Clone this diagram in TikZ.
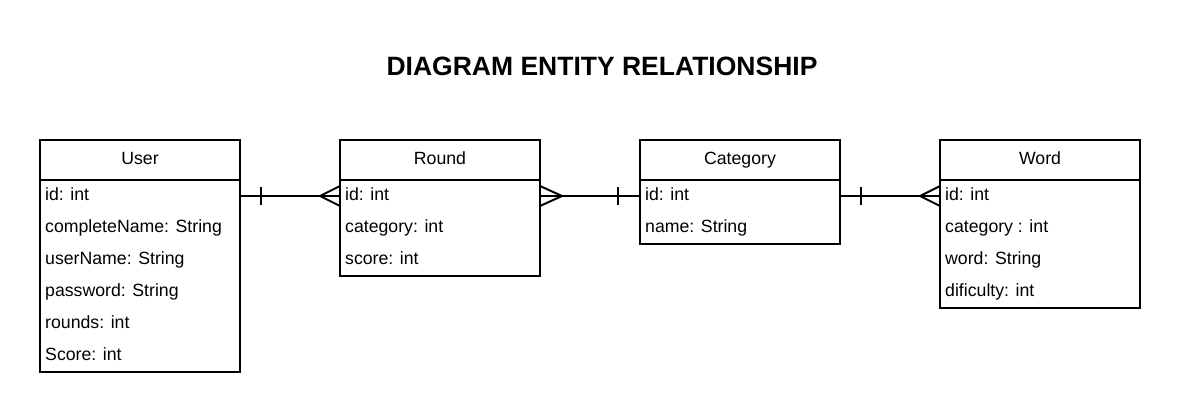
\documentclass[tikz,border=0pt]{standalone}
\usepackage{fontspec}
\setmainfont{Liberation Sans}
\begin{document}
\begin{tikzpicture}[x=1pt,y=-1pt,
  box/.style={draw=black,line width=2pt,fill=white},
  rowtxt/.style={anchor=base west,inner sep=0pt,font=\fontsize{17.7}{20}\selectfont},
  headtxt/.style={anchor=base,inner sep=0pt,font=\fontsize{17.7}{20}\selectfont},
  rel/.style={draw=black,line width=2pt},
]
\useasboundingbox[fill=white] (0,0) rectangle (1180,412);
\node[anchor=base,inner sep=0pt,font=\bfseries\fontsize{26.5}{30}\selectfont] (title) at (602,75) {DIAGRAM ENTITY RELATIONSHIP};

% boxes: left x, bottom y
\foreach \nm/\x/\b in {user/40/372, round/340/276, cat/640/244, word/940/308}{
  \draw[box] (\x,140) rectangle (\x+200,\b);
  \draw[line width=2pt] (\x,180) -- (\x+200,180);
}
\coordinate (userE) at (240,196);
\coordinate (roundW) at (340,196);
\coordinate (roundE) at (540,196);
\coordinate (catW) at (640,196);
\coordinate (catE) at (840,196);
\coordinate (wordW) at (940,196);

\node[headtxt] (userH) at (140,164) {User};
\node[headtxt] (roundH) at (440,164) {Round};
\node[headtxt] (catH) at (740,164) {Category};
\node[headtxt] (wordH) at (1040,164) {Word};

\node[rowtxt] (u1) at (45,200) {id: int};
\node[rowtxt] (u2) at (45,232) {completeName: String};
\node[rowtxt] (u3) at (45,264) {userName: String};
\node[rowtxt] (u4) at (45,296) {password: String};
\node[rowtxt] (u5) at (45,328) {rounds: int};
\node[rowtxt] (u6) at (45,360) {Score: int};

\node[rowtxt] (r1) at (345,200) {id: int};
\node[rowtxt] (r2) at (345,232) {category: int};
\node[rowtxt] (r3) at (345,264) {score: int};

\node[rowtxt] (c1) at (645,200) {id: int};
\node[rowtxt] (c2) at (645,232) {name: String};

\node[rowtxt] (w1) at (945,200) {id: int};
\node[rowtxt] (w2) at (945,232) {category : int};
\node[rowtxt] (w3) at (945,264) {word: String};
\node[rowtxt] (w4) at (945,296) {dificulty: int};

% User -- Round : one to many
\draw[rel] (userE) -- (roundW);
\draw[rel] ([xshift=21pt,yshift=-9pt]userE) -- ([xshift=21pt,yshift=9pt]userE);
\draw[rel] ([yshift=-10pt]roundW) -- ([xshift=-20pt]roundW) -- ([yshift=10pt]roundW);

% Round -- Category : many to one
\draw[rel] (roundE) -- (catW);
\draw[rel] ([yshift=-10pt]roundE) -- ([xshift=22pt]roundE) -- ([yshift=10pt]roundE);
\draw[rel] ([xshift=-22pt,yshift=-9pt]catW) -- ([xshift=-22pt,yshift=9pt]catW);

% Category -- Word : one to many
\draw[rel] (catE) -- (wordW);
\draw[rel] ([xshift=21pt,yshift=-9pt]catE) -- ([xshift=21pt,yshift=9pt]catE);
\draw[rel] ([yshift=-10pt]wordW) -- ([xshift=-20pt]wordW) -- ([yshift=10pt]wordW);
\end{tikzpicture}
\end{document}
